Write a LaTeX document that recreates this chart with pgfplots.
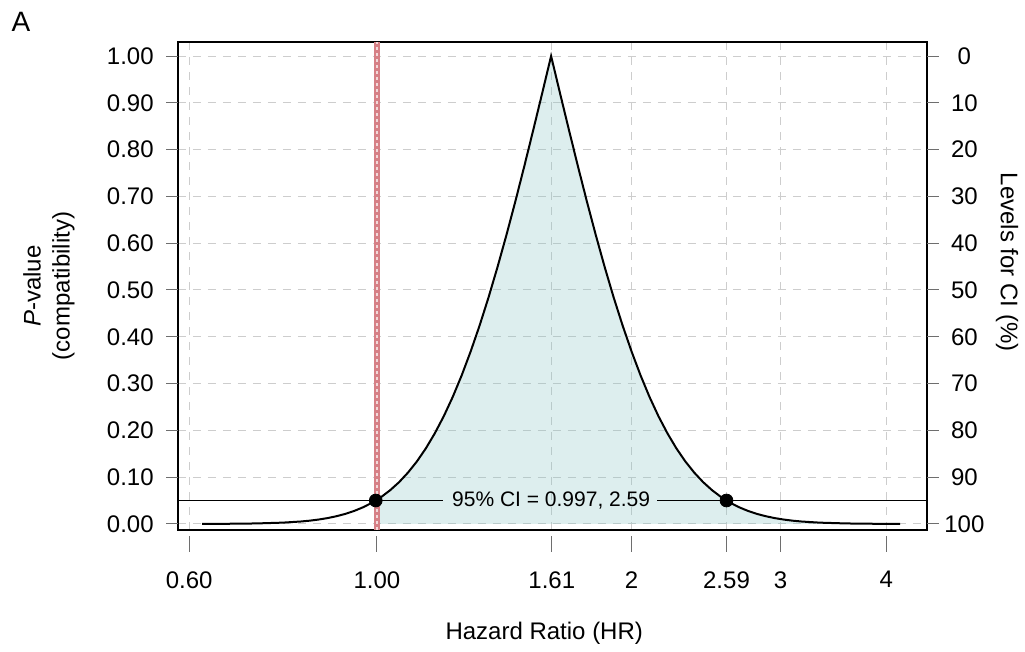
\documentclass[border=0pt]{standalone}
\usepackage{pgfplots}
\pgfplotsset{compat=1.18}
\usepackage{fontspec}
\setmainfont{Liberation Sans}
\definecolor{cifill}{RGB}{142,198,198}
\definecolor{nullred}{RGB}{214,128,134}
\definecolor{gridgray}{RGB}{205,205,205}
\definecolor{tickgray}{RGB}{110,110,110}

\begin{document}
\fontsize{12}{14.5}\selectfont
\begin{tikzpicture}
\path[use as bounding box] (-89pt,-61pt) rectangle (423.5pt,265pt);
\node[font=\fontsize{14}{16}\selectfont] at (-78.5pt,254pt) {A};

% main axis: box, grid and data
\begin{axis}[scale only axis, width=374.5pt, height=244pt,
  xmode=log, xmin=0.582, xmax=4.47, ymin=-0.013, ymax=1.03,
  at={(0pt,0pt)}, anchor=south west,
  xtick={0.6,1,1.61,2,2.59,3,4}, xticklabels={},
  ytick={0,0.1,0.2,0.3,0.4,0.5,0.6,0.7,0.8,0.9,1}, yticklabels={},
  grid=major,
  major grid style={gridgray, line width=0.5pt, dash pattern=on 4pt off 3.5pt},
  major tick length=0pt,
  axis line style={black, line width=0.75pt},
]
\addplot[draw=none, fill=cifill, fill opacity=0.3] coordinates {
(1,0.0514) (1.0117,0.0574) (1.0366,0.0719) (1.0622,0.0891) (1.0883,0.1096)
(1.1152,0.1336) (1.1427,0.1615) (1.1708,0.1936) (1.1997,0.2301) (1.2293,0.2713)
(1.2596,0.3173) (1.2906,0.3681) (1.3225,0.4237) (1.3551,0.4839) (1.3885,0.5485)
(1.4227,0.6171) (1.4578,0.6892) (1.4937,0.7642) (1.5305,0.8415) (1.5682,0.9203)
(1.6069,1) (1.6465,0.9203) (1.6871,0.8415) (1.7287,0.7642) (1.7713,0.6892)
(1.8149,0.6171) (1.8597,0.5485) (1.9055,0.4839) (1.9525,0.4237) (2.0006,0.3681)
(2.0500,0.3173) (2.1005,0.2713) (2.1523,0.2301) (2.2054,0.1936) (2.2597,0.1615)
(2.3154,0.1336) (2.3725,0.1096) (2.4310,0.0891) (2.4910,0.0719) (2.5524,0.0574)
(2.5899,0.05) (2.6153,0.0455) (2.6796,0.0357) (2.7458,0.0278) (2.8133,0.0214)
(2.8829,0.0164) (2.9537,0.0124) (3.0268,0.0093) (3.1011,0.0069) (3.1779,0.0051)
(3.3365,0.0027) (3.5894,0.00097) (3.8609,0.00032) (4.1535,0.0001)
} \closedcycle;

\addplot[nullred, line width=3pt] coordinates {(1,-0.013) (1,1.03)};
\addplot[white, line width=0.8pt, dash pattern=on 1.5pt off 1.5pt, opacity=0.7] coordinates {(1,-0.013) (1,1.03)};

\addplot[black, line width=0.6pt] coordinates {(0.582,0.05) (1.197,0.05)};
\addplot[black, line width=0.6pt] coordinates {(2.144,0.05) (4.47,0.05)};

\addplot[black, line width=1pt] coordinates {
(0.6217,0.0001) (0.6688,0.00032) (0.7194,0.00097) (0.7739,0.0027) (0.8125,0.0051)
(0.8327,0.0069) (0.8531,0.0093) (0.8742,0.0124) (0.8957,0.0164) (0.9178,0.0214)
(0.9404,0.0278) (0.9636,0.0357) (0.9873,0.0455) (0.9970,0.05)
(1.0117,0.0574) (1.0366,0.0719) (1.0622,0.0891) (1.0883,0.1096)
(1.1152,0.1336) (1.1427,0.1615) (1.1708,0.1936) (1.1997,0.2301) (1.2293,0.2713)
(1.2596,0.3173) (1.2906,0.3681) (1.3225,0.4237) (1.3551,0.4839) (1.3885,0.5485)
(1.4227,0.6171) (1.4578,0.6892) (1.4937,0.7642) (1.5305,0.8415) (1.5682,0.9203)
(1.6069,1) (1.6465,0.9203) (1.6871,0.8415) (1.7287,0.7642) (1.7713,0.6892)
(1.8149,0.6171) (1.8597,0.5485) (1.9055,0.4839) (1.9525,0.4237) (2.0006,0.3681)
(2.0500,0.3173) (2.1005,0.2713) (2.1523,0.2301) (2.2054,0.1936) (2.2597,0.1615)
(2.3154,0.1336) (2.3725,0.1096) (2.4310,0.0891) (2.4910,0.0719) (2.5524,0.0574)
(2.5899,0.05) (2.6153,0.0455) (2.6796,0.0357) (2.7458,0.0278) (2.8133,0.0214)
(2.8829,0.0164) (2.9537,0.0124) (3.0268,0.0093) (3.1011,0.0069) (3.1779,0.0051)
(3.3365,0.0027) (3.5894,0.00097) (3.8609,0.00032) (4.1535,0.0001)
};

\node[font=\fontsize{10.5}{12}\selectfont] at (axis cs:1.607,0.05) {95\% CI = 0.997, 2.59};

\addplot[only marks, mark=*, mark size=3.2pt, black] coordinates {(0.997,0.05) (2.59,0.05)};
\end{axis}

% left y axis ticks and labels
\begin{axis}[scale only axis, width=374.5pt, height=244pt,
  xmode=log, xmin=0.582, xmax=4.47, ymin=-0.013, ymax=1.03,
  at={(0pt,0pt)}, anchor=south west,
  axis y line*=left, axis x line=none, xtick=\empty,
  ytick={0,0.1,0.2,0.3,0.4,0.5,0.6,0.7,0.8,0.9,1},
  yticklabels={0.00,0.10,0.20,0.30,0.40,0.50,0.60,0.70,0.80,0.90,1.00},
  tick align=outside, major tick length=6pt,
  tick style={tickgray, line width=0.5pt},
  axis line style={draw=none},
  yticklabel style={xshift=-2pt},
  ylabel={\textit{P}-value\\(compatibility)},
  ylabel style={at={(axis description cs:-0.1722,0.5)}, anchor=center, align=center},
]
\end{axis}

% right y axis ticks and labels
\begin{axis}[scale only axis, width=374.5pt, height=244pt,
  xmode=log, xmin=0.582, xmax=4.47, ymin=-0.013, ymax=1.03,
  at={(0pt,0pt)}, anchor=south west,
  axis y line*=right, axis x line=none, xtick=\empty,
  ytick={0,0.1,0.2,0.3,0.4,0.5,0.6,0.7,0.8,0.9,1},
  yticklabels={100,90,80,70,60,50,40,30,20,10,0},
  tick align=outside, major tick length=6pt,
  tick style={tickgray, line width=0.5pt},
  axis line style={draw=none},
  yticklabel style={text width=20pt, align=center, inner sep=0pt, xshift=2.5pt},
  ylabel={Levels for CI (\%)},
  ylabel style={at={(axis description cs:1.1068,0.549)}, anchor=center, rotate=180},
]
\end{axis}

% x axis ticks and labels (offset below the box)
\begin{axis}[scale only axis, width=374.5pt, height=1pt,
  xmode=log, xmin=0.582, xmax=4.47, ymin=0, ymax=1,
  at={(0pt,-3pt)}, anchor=south west,
  axis x line*=bottom, axis y line=none, ytick=\empty,
  xtick={0.6,1,1.61,2,2.59,3,4},
  xticklabels={0.60,1.00,1.61,2,2.59,3,4},
  tick align=outside, major tick length=8pt,
  tick style={tickgray, line width=0.5pt},
  axis line style={draw=none},
  xticklabel style={yshift=-5.5pt},
  xlabel={Hazard Ratio (HR)},
  xlabel style={at={(axis description cs:0.489,0)}, anchor=center, yshift=-48.5pt},
]
\end{axis}
\end{tikzpicture}
\end{document}
